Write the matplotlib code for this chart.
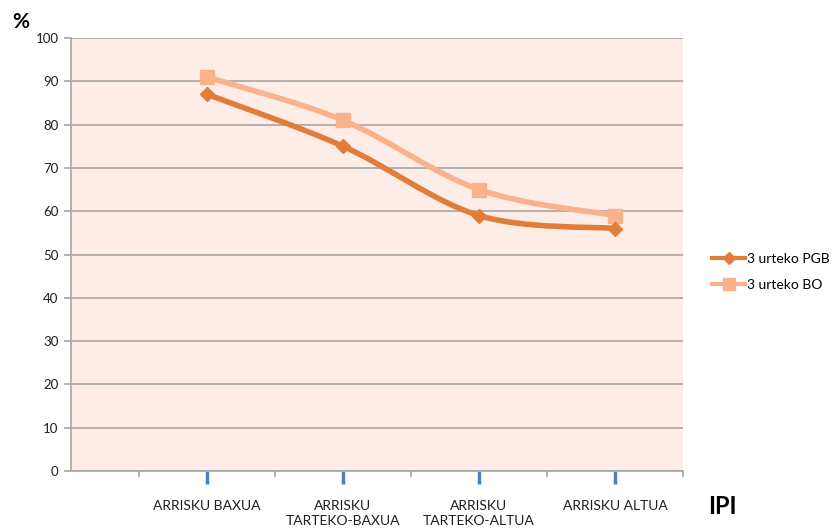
import matplotlib.pyplot as plt
import numpy as np
from matplotlib.path import Path
from matplotlib.patches import PathPatch
from matplotlib.lines import Line2D

plt.rcParams['font.family'] = ['Lato', 'DejaVu Sans']

# Datuak
kategoriak = ['ARRISKU BAXUA', 'ARRISKU\nTARTEKO-BAXUA', 'ARRISKU\nTARTEKO-ALTUA', 'ARRISKU ALTUA']
pgb = [87, 75, 59, 56]
bo = [91, 81, 65, 59]

kolore_pgb = '#E07D3A'
kolore_bo = '#F9B28C'


def kurba_leuna(x, y):
    # Catmull-Rom -> Bezier kubikoa, Excel-en "smoothed line" antzera
    x = np.asarray(x, float)
    y = np.asarray(y, float)
    pts = np.column_stack([x, y])
    verts = [pts[0]]
    codes = [Path.MOVETO]
    n = len(pts)
    for i in range(n - 1):
        p0 = pts[i - 1] if i > 0 else pts[i]
        p1 = pts[i]
        p2 = pts[i + 1]
        p3 = pts[i + 2] if i + 2 < n else pts[i + 1]
        c1 = p1 + (p2 - p0) / 6.0
        c2 = p2 - (p3 - p1) / 6.0
        verts += [c1, c2, p2]
        codes += [Path.CURVE4] * 3
    return Path(verts, codes)


fig = plt.figure(figsize=(8.33, 5.31), dpi=100)
ax = fig.add_axes([71 / 833, 1 - 471 / 531, (683 - 71) / 833, (471 - 38) / 531])
ax.set_facecolor('#FDEDE6')

xpos = np.arange(1, len(kategoriak) + 1)

for balioak, kol, mark, ms in [(bo, kolore_bo, 's', 10), (pgb, kolore_pgb, 'D', 7)]:
    ax.add_patch(PathPatch(kurba_leuna(xpos, balioak), fill=False, edgecolor=kol,
                           lw=4, capstyle='round', joinstyle='round', zorder=3))
    ax.plot(xpos, balioak, linestyle='none', marker=mark, markersize=ms,
            color=kol, zorder=4)

ax.set_xlim(0, 4.5)
ax.set_ylim(0, 100)
ax.set_yticks(range(0, 101, 10))
ax.yaxis.grid(True, color='#A6A6A6', lw=1.2)
ax.set_axisbelow(True)

for s in ['top', 'right']:
    ax.spines[s].set_visible(False)
for s in ['left', 'bottom']:
    ax.spines[s].set_color('#A6A6A6')
    ax.spines[s].set_linewidth(1.2)

ax.set_xticks(xpos)
ax.set_xticklabels(kategoriak, fontsize=10, color='#1F1F1F', linespacing=1.25)
ax.set_xticks(np.arange(0.5, 4.6, 1.0), minor=True)
ax.tick_params(axis='x', which='major', direction='out', length=9, width=2.5,
               color='#4F81BD', pad=12)
ax.tick_params(axis='x', which='minor', direction='out', length=4, width=1.2,
               color='#A6A6A6')
ax.tick_params(axis='y', direction='out', length=5, width=1.2, color='#A6A6A6',
               labelsize=9.5, labelcolor='#1F1F1F', pad=4)

fig.text(12 / 833, 1 - 22 / 531, '%', fontsize=15, fontweight='bold',
         va='center', ha='left', color='black')
fig.text(708 / 833, 1 - 506 / 531, 'IPI', fontsize=17, fontweight='bold',
         va='center', ha='left', color='black')

eskuak = [Line2D([], [], color=kolore_pgb, lw=3, marker='D', markersize=6),
          Line2D([], [], color=kolore_bo, lw=3, marker='s', markersize=9)]
fig.legend(eskuak, ['3 urteko PGB', '3 urteko BO'], loc='center left',
           bbox_to_anchor=(712 / 833, 1 - 272 / 531), frameon=False,
           fontsize=10, handlelength=2.4, handletextpad=0.1, labelspacing=1.0,
           borderpad=0, borderaxespad=0)

fig.savefig('out.png', dpi=100)
